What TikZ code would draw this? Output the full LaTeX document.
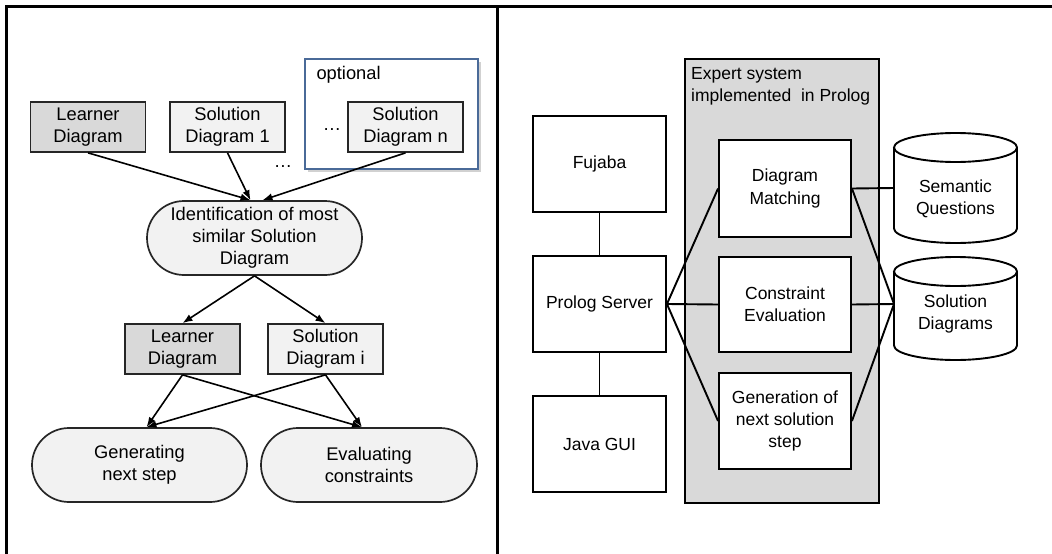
\documentclass[tikz,border=0pt]{standalone}
\usepackage{fontspec}
\setmainfont{Liberation Sans}
\usetikzlibrary{shapes.misc,arrows.meta,calc}
\definecolor{lightfill}{HTML}{F2F2F2}
\definecolor{grayfill}{HTML}{D9D9D9}
\definecolor{optblue}{HTML}{4A6A98}
\tikzset{
  lfont/.style={font=\fontsize{18.3}{22}\selectfont},
  rfont/.style={font=\fontsize{17.5}{22.3}\selectfont},
  dbox/.style={draw=black!85, line width=1.7pt, rectangle, inner sep=0pt, align=center, lfont},
  lbox/.style={dbox, fill=lightfill, minimum width=115pt, minimum height=50pt},
  gbox/.style={dbox, fill=grayfill, minimum width=115pt, minimum height=50pt},
  pill/.style={draw=black!85, line width=1.7pt, rounded rectangle, fill=lightfill, inner sep=0pt, align=center, lfont},
  arr/.style={line width=1.6pt, -{Latex[length=10pt,width=7.5pt]}},
  rbox/.style={draw=black, line width=1.9pt, rectangle, fill=white, inner sep=0pt, align=center, rfont, minimum width=133pt, minimum height=96pt},
  conn/.style={line width=1.9pt},
}
\begin{document}
\begin{tikzpicture}[x=1pt,y=-1pt]
\useasboundingbox (0,0) rectangle (1052,554);
% frame
\draw[line width=3pt] (6.5,554) -- (6.5,6.5) -- (1052,6.5);
\draw[line width=3pt] (497,6.5) -- (497,554);

% ---------------- left part ----------------
% optional group
\fill[black!18] (308,62) rectangle (481,172);
\draw[optblue, line width=2pt, fill=white] (305,59) rectangle (478,169);
\node[lfont, anchor=west] (opt) at (313,75) {optional};
\node[lfont] (dots1) at (332,130) {\dots};
\node[lfont] (dots2) at (283,167) {\dots};

\node[gbox] (l1) at (88,127) {Learner\\Diagram};
\node[lbox] (s1) at (227.5,127) {Solution\\Diagram 1};
\node[lbox] (sn) at (405.5,127) {Solution\\Diagram n};

\node[pill, minimum width=215pt, minimum height=74pt] (id) at (254.5,238) {Identification of most\\similar Solution\\Diagram};

\node[gbox] (l2) at (182.5,349) {Learner\\Diagram};
\node[lbox] (si) at (325.5,349) {Solution\\Diagram i};

\node[pill, minimum width=215pt, minimum height=74pt] (gen) at (139.5,465) {Generating\\next step};
\node[pill, minimum width=216pt, minimum height=74pt] (ev) at (369,465) {Evaluating\\constraints};

\draw[arr] (l1.south) -- ([xshift=-4pt]id.north);
\draw[arr] (s1.south) -- ([xshift=-4pt]id.north);
\draw[arr] (sn.south) -- ([xshift=8pt]id.north);
\draw[arr] (id.south) -- (l2.north);
\draw[arr] (id.south) -- (si.north);
\draw[arr] (l2.south) -- ([xshift=7pt]gen.north);
\draw[arr] (l2.south) -- ([xshift=-7pt]ev.north);
\draw[arr] (si.south) -- ([xshift=7pt]gen.north);
\draw[arr] (si.south) -- ([xshift=-7pt]ev.north);

% ---------------- right part ----------------
\draw[black, line width=1.9pt, fill=grayfill] (685,59) rectangle (879,503);
\node[rfont, anchor=north west, align=left, inner sep=0pt] (exp) at (691,67) {Expert system\\implemented\ \ in Prolog};

\node[rbox] (fuj) at (599.5,164) {Fujaba};
\node[rbox] (ps) at (599.5,304) {Prolog Server};
\node[rbox] (jg) at (599.5,444) {Java GUI};

\node[rbox, minimum width=132pt, minimum height=97pt] (dm) at (785,188.5) {Diagram\\Matching};
\node[rbox, minimum width=132pt, minimum height=95pt] (ce) at (785,304.5) {Constraint\\Evaluation};
\node[rbox, minimum width=132pt, minimum height=96pt] (gn) at (785,421) {Generation of\\next solution\\step};

% cylinders
\node[minimum width=123pt, minimum height=110pt, inner sep=0pt] (sq) at (955.5,188) {};
\draw[line width=1.9pt, fill=white] (894,147.5) -- (894,228.5) arc[start angle=180, end angle=360, x radius=61.5, y radius=-14.5] -- (1017,147.5) arc[start angle=0, end angle=360, x radius=61.5, y radius=-14.5];
\node[rfont, align=center] (sqt) at (955.5,199) {Semantic\\Questions};

\node[minimum width=123pt, minimum height=103pt, inner sep=0pt] (sd) at (955.5,308.5) {};
\draw[line width=1.9pt, fill=white] (894,271.5) -- (894,345.5) arc[start angle=180, end angle=360, x radius=61.5, y radius=-14.5] -- (1017,271.5) arc[start angle=0, end angle=360, x radius=61.5, y radius=-14.5];
\node[rfont, align=center] (sdt) at (955.5,314) {Solution\\Diagrams};

\coordinate (sdw) at (894,304);
\coordinate (sqw) at (894,188);

\draw[conn] (fuj.south) -- (ps.north);
\draw[conn] (ps.south) -- (jg.north);
\draw[conn] (ps.east) -- (dm.west);
\draw[conn] (ps.east) -- (ce.west);
\draw[conn] (ps.east) -- (gn.west);
\draw[conn] (dm.east) -- (sqw);
\draw[conn] (dm.east) -- (sdw);
\draw[conn] (ce.east) -- (sdw);
\draw[conn] (gn.east) -- (sdw);
\end{tikzpicture}
\end{document}
